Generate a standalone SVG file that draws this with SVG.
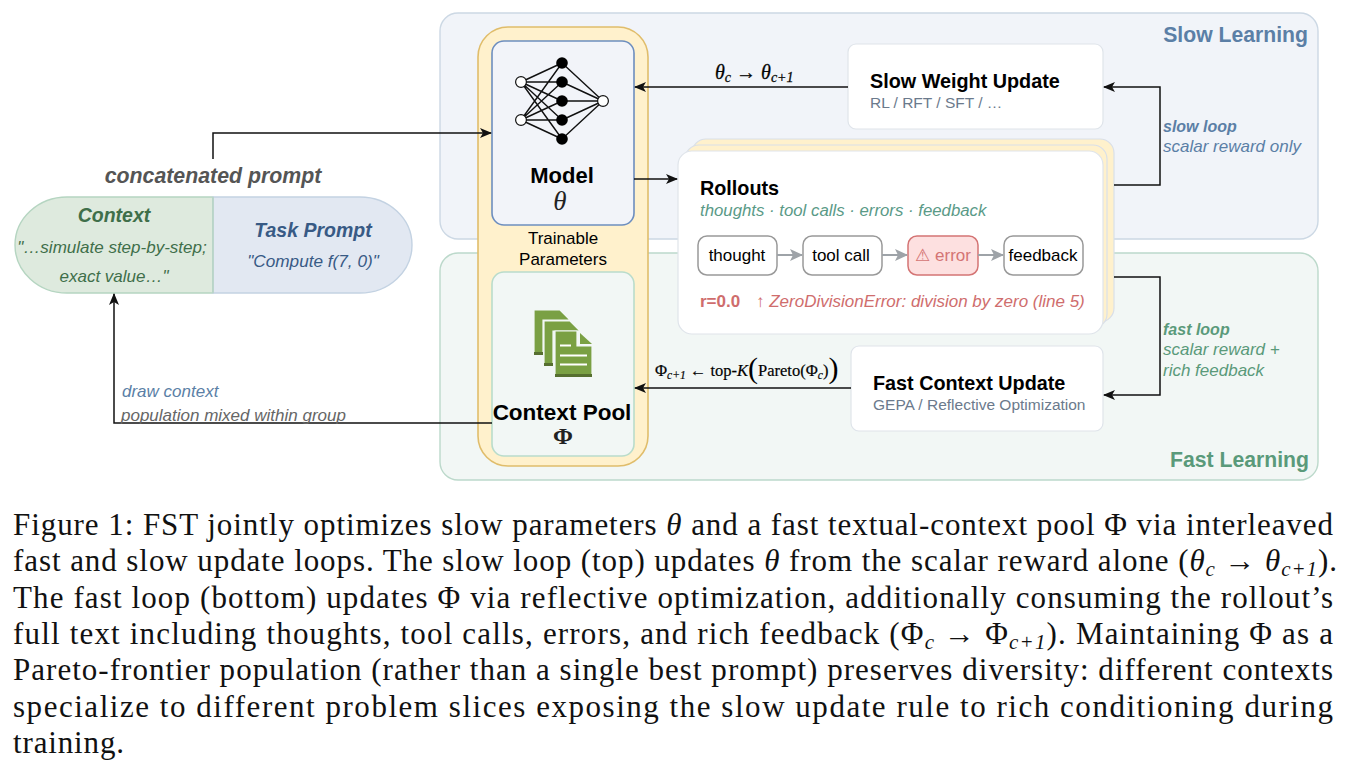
<svg xmlns="http://www.w3.org/2000/svg" width="1347" height="767" viewBox="0 0 1347 767">
<style>
text{font-family:"Liberation Sans",Arial,sans-serif}
.m{font-family:"Liberation Serif","Times New Roman",serif}
.cap{font-family:"Liberation Serif","Times New Roman",serif;font-size:31px;fill:#111}
.h{font-size:19.8px;font-weight:bold;fill:#000}
.card{fill:#fff;stroke:#dfe4ea;stroke-width:1.2}
.st{fill:#fff;stroke:#999;stroke-width:1.5}
.c{fill:none;stroke:#111;stroke-width:1.5}
.g{fill:none;stroke:#9ea3a8;stroke-width:2}
.nn{stroke:#111;stroke-width:1.4}
.lab{font-size:17px;fill:#000;text-anchor:middle}
.pg{fill:#7aa043;stroke:#f2f7f5;stroke-width:1.2}
</style>
<defs>
<marker id="a" viewBox="0 0 12 10" refX="11" refY="5" markerWidth="12" markerHeight="10" markerUnits="userSpaceOnUse" orient="auto"><path d="M0 0L12 5L0 10L3 5Z" fill="#111"/></marker>
<marker id="ag" viewBox="0 0 13 12" refX="12" refY="6" markerWidth="13" markerHeight="12" markerUnits="userSpaceOnUse" orient="auto"><path d="M0 0L13 6L0 12L3 6Z" fill="#9ea3a8"/></marker>
</defs>
<rect width="1347" height="767" fill="#fff"/>
<g id="slow-learning"><rect x="440" y="13" width="878" height="226" rx="18" fill="#f1f4f9" stroke="#ccd8e4" stroke-width="1.4"/><text x="1308" y="42" font-size="21.2" font-weight="bold" fill="#5b7fa6" text-anchor="end">Slow Learning</text></g>
<g id="fast-learning"><rect x="440" y="253" width="878" height="227" rx="18" fill="#f2f7f5" stroke="#bcd9cb" stroke-width="1.4"/><text x="1309" y="467" font-size="21.2" font-weight="bold" fill="#5a9a7a" text-anchor="end">Fast Learning</text></g>
<g id="trainable"><rect x="478" y="27" width="170" height="439" rx="30" fill="#fff1cc" stroke="#e0bd6b" stroke-width="1.6"/><text class="lab" x="563" y="244">Trainable</text><text class="lab" x="563" y="265">Parameters</text></g>
<g id="model"><rect x="492" y="41" width="142" height="184" rx="12" fill="#f2f4f9" stroke="#6d8ebf" stroke-width="1.6"/>
<g class="nn"><path d="M521 82L562 63M521 82L562 82M521 82L562 101M521 82L562 120M521 82L562 139M521 120L562 63M521 120L562 82M521 120L562 101M521 120L562 120M521 120L562 139M562 63L603 101M562 82L603 101M562 101L603 101M562 120L603 101M562 139L603 101" fill="none"/></g>
<g fill="#000"><circle cx="562" cy="63" r="5.8"/><circle cx="562" cy="82" r="5.8"/><circle cx="562" cy="101" r="5.8"/><circle cx="562" cy="120" r="5.8"/><circle cx="562" cy="139" r="5.8"/></g>
<g fill="#fff" stroke="#111" stroke-width="1.2"><circle cx="521" cy="82" r="5.4"/><circle cx="521" cy="120" r="5.4"/><circle cx="603" cy="101" r="5.4"/></g>
<text x="562" y="183" text-anchor="middle" font-size="22" font-weight="bold" fill="#000">Model</text><text class="m" x="560" y="210" font-size="27" font-style="italic" text-anchor="middle" fill="#222">θ</text></g>
<g id="context-pool"><rect x="492" y="272" width="142" height="184" rx="12" fill="#f2f7f5" stroke="#b9dccb" stroke-width="1.6"/>
<path class="pg" d="M534 310H560L570 320H543V355H534Z"/><path d="M534 352H543V355H534Z" fill="#566f2f"/>
<path class="pg" d="M544 321H570L580 331H553V366H544Z"/><path d="M544 363H553V366H544Z" fill="#566f2f"/>
<path class="pg" d="M555 331H577V346H592V377H555Z"/><path d="M555 374H592V377H555Z" fill="#566f2f"/><path d="M580 333L592 344H580Z" fill="#7aa043"/>
<path d="M560 345.500H571M560 355.500H587M560 364.500H587" stroke="#fff" stroke-width="2" fill="none"/>
<text x="562" y="420" text-anchor="middle" font-size="22.500" font-weight="bold" fill="#000">Context Pool</text><text class="m" x="563" y="444" font-size="24" text-anchor="middle" font-weight="bold" fill="#222">Φ</text></g>
<g id="slow-weight-update"><rect class="card" x="848" y="44" width="255" height="85" rx="8"/><text class="h" x="870" y="88">Slow Weight Update</text><text x="870" y="108" font-size="15.500" fill="#6b7a8c">RL / RFT / SFT / …</text></g>
<g id="fast-context-update"><rect class="card" x="851" y="346" width="252" height="85" rx="8"/><text class="h" x="873" y="390">Fast Context Update</text><text x="873" y="410" font-size="15.500" fill="#6b7a8c">GEPA / Reflective Optimization</text></g>
<g id="rollouts">
<rect x="692" y="139" width="422" height="183" rx="14" fill="#fff1cc" stroke="#d9dfe8" stroke-width="1.2"/>
<rect x="685" y="145" width="422" height="183" rx="14" fill="#fff1cc" stroke="#d9dfe8" stroke-width="1.2"/>
<rect x="678" y="151" width="425" height="183" rx="14" fill="#fff" stroke="#dfe4ea" stroke-width="1.2"/>
<text class="h" x="700" y="195">Rollouts</text><text x="700" y="216" font-size="16.800" font-style="italic" fill="#5a9a87">thoughts · tool calls · errors · feedback</text>
<g id="thought"><rect class="st" x="698" y="236" width="79" height="39" rx="9"/><text class="lab" x="737" y="261">thought</text></g>
<g id="tool-call"><rect class="st" x="803" y="236" width="79" height="39" rx="9"/><text class="lab" x="841" y="261">tool call</text></g>
<g id="error"><rect x="908" y="236" width="70" height="39" rx="9" fill="#fde0e0" stroke="#d47474" stroke-width="1.5"/><text x="943" y="261" font-size="17" fill="#d47474" text-anchor="middle" style="font-family:'Liberation Sans','DejaVu Sans',sans-serif">⚠ error</text></g>
<g id="feedback"><rect class="st" x="1004" y="236" width="79" height="39" rx="9"/><text class="lab" x="1043" y="261">feedback</text></g>
<text x="700" y="307" font-size="17" font-weight="bold" fill="#cf6d6d">r=0.0</text>
<text x="756" y="307" font-size="17" font-style="italic" fill="#cf6d6d">↑ ZeroDivisionError: division by zero (line 5)</text>
</g>
<g id="prompt">
<path d="M213 197H67A52 48 0 0 0 15 245A52 48 0 0 0 67 293H213Z" fill="#deeade" stroke="#b5d5c1" stroke-width="1.4"/>
<path d="M213 197H360A52 48 0 0 1 412 245A52 48 0 0 1 360 293H213Z" fill="#e2e8f2" stroke="#c3d2e2" stroke-width="1.4"/>
<path d="M213 197V293" stroke="#b5d5c1" stroke-width="1.4"/>
<text x="213" y="183" font-size="21.300" font-weight="bold" font-style="italic" fill="#555" text-anchor="middle">concatenated prompt</text>
<text x="114" y="222" font-size="19.500" font-weight="bold" font-style="italic" fill="#3f6f4a" text-anchor="middle">Context</text>
<text x="112" y="253" font-size="17" font-style="italic" fill="#3f6f4a" text-anchor="middle">"…simulate step-by-step;</text>
<text x="114" y="282" font-size="17" font-style="italic" fill="#3f6f4a" text-anchor="middle">exact value…"</text>
<text x="313" y="237" font-size="19.500" font-weight="bold" font-style="italic" fill="#385a85" text-anchor="middle">Task Prompt</text>
<text x="313" y="267" font-size="17.200" font-style="italic" fill="#385a85" text-anchor="middle">"Compute f(7, 0)"</text>
</g>
<g id="connectors">
<path class="c" d="M213 159V133H491" marker-end="url(#a)"/>
<path class="c" d="M848 87H635" marker-end="url(#a)"/>
<path class="c" d="M634 179H677" marker-end="url(#a)"/>
<path class="c" d="M1114 185H1160V87H1104" marker-end="url(#a)"/>
<path class="c" d="M1114 277H1160V395H1104" marker-end="url(#a)"/>
<path class="c" d="M851 388H635" marker-end="url(#a)"/>
<path class="c" d="M492 423H114V294" marker-end="url(#a)"/>
<path class="g" d="M777 255H802" marker-end="url(#ag)"/>
<path class="g" d="M882 255H907" marker-end="url(#ag)"/>
<path class="g" d="M978 255H1003" marker-end="url(#ag)"/>
</g>
<g id="labels">
<text class="m" x="715" y="79" font-size="20" stroke="#111" stroke-width="0.3"><tspan font-style="italic">θ</tspan><tspan font-size="14" dy="3" font-style="italic">c</tspan><tspan dy="-3"> → </tspan><tspan font-style="italic">θ</tspan><tspan font-size="14" dy="3" font-style="italic">c+1</tspan></text>
<text class="m" x="655" y="376" font-size="16.500" stroke="#111" stroke-width="0.2">Φ<tspan font-size="11.500" dy="3" font-style="italic">c+1</tspan><tspan dy="-3"> ← top-</tspan><tspan font-style="italic">K</tspan><tspan font-size="30" dy="2" stroke-width="0">(</tspan><tspan dy="-2">Pareto(Φ</tspan><tspan font-size="11.500" dy="3" font-style="italic">c</tspan><tspan dy="-3">)</tspan><tspan font-size="30" dy="2" stroke-width="0">)</tspan></text>
<text x="1163" y="132" font-size="16" font-style="italic" font-weight="bold" fill="#5b7fa6">slow loop</text>
<text x="1163" y="152" font-size="17" font-style="italic" fill="#5b7fa6">scalar reward only</text>
<text x="1163" y="335" font-size="16" font-style="italic" font-weight="bold" fill="#5a9a7a">fast loop</text>
<text x="1163" y="355" font-size="17" font-style="italic" fill="#5a9a7a">scalar reward +</text>
<text x="1163" y="376" font-size="17" font-style="italic" fill="#5a9a7a">rich feedback</text>
<text x="122" y="397" font-size="17" font-style="italic" fill="#5b7fa6">draw context</text>
<text x="121" y="421" font-size="17" font-style="italic" fill="#666">population mixed within group</text>
</g>
<g id="caption">
<text class="cap" x="13" y="535" textLength="1320" lengthAdjust="spacing">Figure 1: FST jointly optimizes slow parameters <tspan font-style="italic">θ</tspan> and a fast textual-context pool Φ via interleaved</text>
<text class="cap" x="13" y="571" textLength="1324" lengthAdjust="spacing">fast and slow update loops. The slow loop (top) updates <tspan font-style="italic">θ</tspan> from the scalar reward alone (<tspan font-style="italic">θ</tspan><tspan font-style="italic" font-size="21" dy="5">c</tspan><tspan dy="-5"> → </tspan><tspan font-style="italic">θ</tspan><tspan font-style="italic" font-size="21" dy="5">c+1</tspan><tspan dy="-5">).</tspan></text>
<text class="cap" x="13" y="608" textLength="1320" lengthAdjust="spacing">The fast loop (bottom) updates Φ via reflective optimization, additionally consuming the rollout’s</text>
<text class="cap" x="13" y="644" textLength="1320" lengthAdjust="spacing">full text including thoughts, tool calls, errors, and rich feedback (Φ<tspan font-style="italic" font-size="21" dy="5">c</tspan><tspan dy="-5"> → Φ</tspan><tspan font-style="italic" font-size="21" dy="5">c+1</tspan><tspan dy="-5">). Maintaining Φ as a</tspan></text>
<text class="cap" x="13" y="680" textLength="1320" lengthAdjust="spacing">Pareto-frontier population (rather than a single best prompt) preserves diversity: different contexts</text>
<text class="cap" x="13" y="717" textLength="1320" lengthAdjust="spacing">specialize to different problem slices exposing the slow update rule to rich conditioning during</text>
<text class="cap" x="13" y="753" textLength="111" lengthAdjust="spacing">training.</text>
</g>
</svg>
